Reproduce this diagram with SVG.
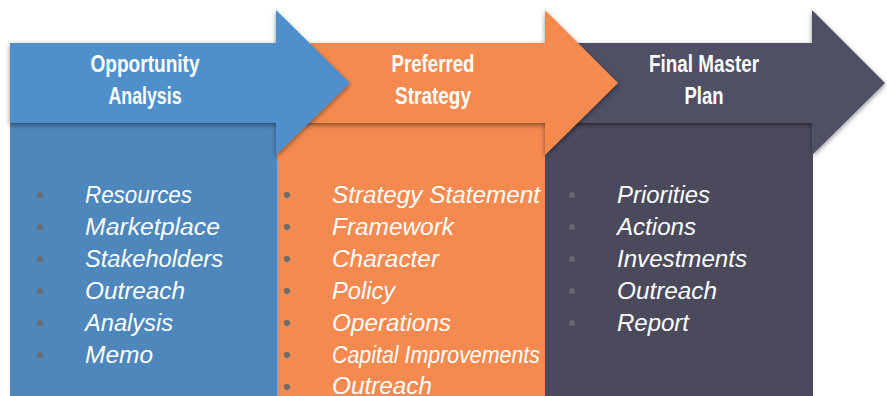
<svg xmlns="http://www.w3.org/2000/svg" width="887" height="396" viewBox="0 0 887 396">
<defs>
<filter id="sh" x="-10%" y="-20%" width="125%" height="150%">
<feDropShadow dx="0" dy="2" stdDeviation="2.5" flood-color="#000" flood-opacity="0.45"/>
</filter>
</defs>
<style>
.title{font-family:"Liberation Sans",Arial,sans-serif;font-weight:bold;font-size:24px;fill:#fff;text-anchor:middle}
.item{font-family:"Liberation Sans",Arial,sans-serif;font-style:italic;font-size:23px;fill:#fff}
.dot{fill:#6b6b70}
.dotd{fill:#66666e}
</style>
<rect width="887" height="396" fill="#fff"/>
<g id="box-final">
<rect x="545" y="123" width="268" height="273" fill="#4a4a5c"/>
</g>
<g id="box-preferred">
<rect x="277" y="123" width="268" height="273" fill="#f48a50"/>
</g>
<g id="box-opportunity">
<rect x="10" y="123" width="267" height="273" fill="#4d87bb"/>
</g>
<g id="arrow-final">
<path d="M545,43 H812 V10 L885,83 L812,155 V123 H545 Z" fill="#4f4f66" filter="url(#sh)"/>
<text class="title" x="704" y="72" textLength="110" lengthAdjust="spacingAndGlyphs">Final Master</text>
<text class="title" x="704" y="104" textLength="39" lengthAdjust="spacingAndGlyphs">Plan</text>
</g>
<g id="arrow-preferred">
<path d="M277,43 H545 V10 L618,83 L545,155 V123 H277 Z" fill="#f58a4f" filter="url(#sh)"/>
<text class="title" x="433" y="72" textLength="83" lengthAdjust="spacingAndGlyphs">Preferred</text>
<text class="title" x="433" y="104" textLength="76" lengthAdjust="spacingAndGlyphs">Strategy</text>
</g>
<g id="arrow-opportunity">
<path d="M10,43 H276 V10 L350,83 L276,155 V123 H10 Z" fill="#4f90cc" filter="url(#sh)"/>
<text class="title" x="145" y="72" textLength="109" lengthAdjust="spacingAndGlyphs">Opportunity</text>
<text class="title" x="145" y="104" textLength="73" lengthAdjust="spacingAndGlyphs">Analysis</text>
</g>
<g id="list-opportunity">
<circle class="dot" cx="40" cy="195" r="3"/>
<circle class="dot" cx="40" cy="227" r="3"/>
<circle class="dot" cx="40" cy="259" r="3"/>
<circle class="dot" cx="40" cy="291" r="3"/>
<circle class="dot" cx="40" cy="323" r="3"/>
<circle class="dot" cx="40" cy="355" r="3"/>
<text class="item" x="85" y="203" textLength="107" lengthAdjust="spacingAndGlyphs">Resources</text>
<text class="item" x="85" y="235" textLength="135" lengthAdjust="spacingAndGlyphs">Marketplace</text>
<text class="item" x="85" y="267" textLength="138" lengthAdjust="spacingAndGlyphs">Stakeholders</text>
<text class="item" x="85" y="299" textLength="100" lengthAdjust="spacingAndGlyphs">Outreach</text>
<text class="item" x="85" y="331" textLength="88" lengthAdjust="spacingAndGlyphs">Analysis</text>
<text class="item" x="85" y="363" textLength="68" lengthAdjust="spacingAndGlyphs">Memo</text>
</g>
<g id="list-preferred">
<circle class="dot" cx="287" cy="195" r="3"/>
<circle class="dot" cx="287" cy="227" r="3"/>
<circle class="dot" cx="287" cy="259" r="3"/>
<circle class="dot" cx="287" cy="291" r="3"/>
<circle class="dot" cx="287" cy="323" r="3"/>
<circle class="dot" cx="287" cy="355" r="3"/>
<circle class="dot" cx="287" cy="387" r="3"/>
<text class="item" x="332" y="203" textLength="208" lengthAdjust="spacingAndGlyphs">Strategy Statement</text>
<text class="item" x="332" y="235" textLength="122" lengthAdjust="spacingAndGlyphs">Framework</text>
<text class="item" x="332" y="267" textLength="107" lengthAdjust="spacingAndGlyphs">Character</text>
<text class="item" x="332" y="299" textLength="63" lengthAdjust="spacingAndGlyphs">Policy</text>
<text class="item" x="332" y="331" textLength="119" lengthAdjust="spacingAndGlyphs">Operations</text>
<text class="item" x="332" y="363" textLength="208" lengthAdjust="spacingAndGlyphs">Capital Improvements</text>
<text class="item" x="332" y="394" textLength="100" lengthAdjust="spacingAndGlyphs">Outreach</text>
</g>
<g id="list-final">
<circle class="dotd" cx="572" cy="195" r="3"/>
<circle class="dotd" cx="572" cy="227" r="3"/>
<circle class="dotd" cx="572" cy="259" r="3"/>
<circle class="dotd" cx="572" cy="291" r="3"/>
<circle class="dotd" cx="572" cy="323" r="3"/>
<text class="item" x="617" y="203" textLength="93" lengthAdjust="spacingAndGlyphs">Priorities</text>
<text class="item" x="617" y="235" textLength="79" lengthAdjust="spacingAndGlyphs">Actions</text>
<text class="item" x="617" y="267" textLength="130" lengthAdjust="spacingAndGlyphs">Investments</text>
<text class="item" x="617" y="299" textLength="100" lengthAdjust="spacingAndGlyphs">Outreach</text>
<text class="item" x="617" y="331" textLength="72" lengthAdjust="spacingAndGlyphs">Report</text>
</g>
</svg>
